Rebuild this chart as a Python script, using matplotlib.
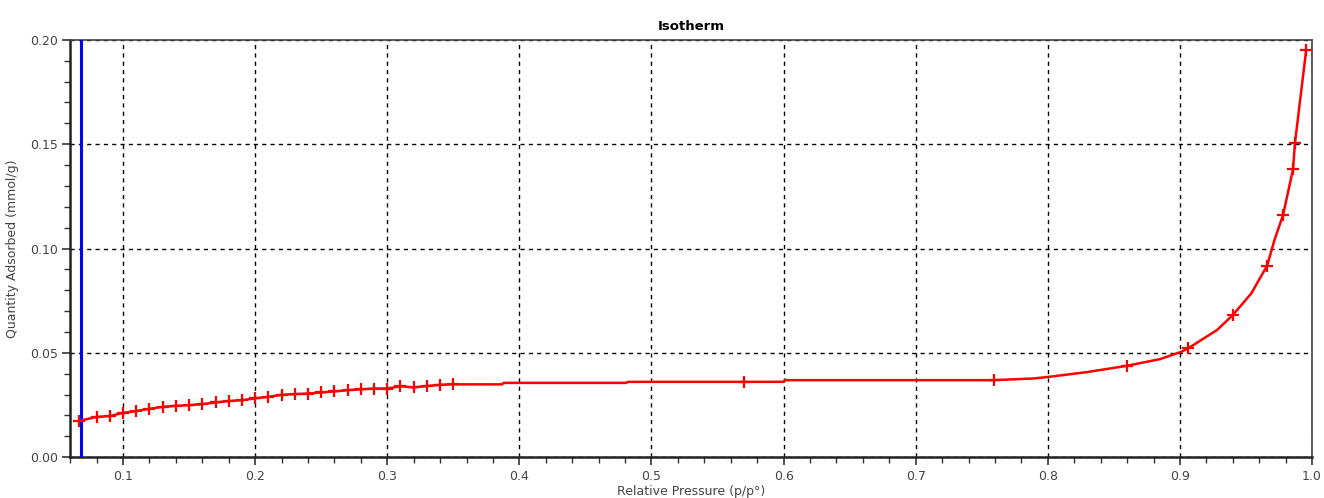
import matplotlib.pyplot as plt
from matplotlib.ticker import MultipleLocator

# measured points (p/p0, mmol/g)
pressure = [0.067, 0.080, 0.090, 0.100, 0.110, 0.120, 0.130, 0.140, 0.150, 0.160,
            0.170, 0.180, 0.190, 0.200, 0.210, 0.220, 0.230, 0.240, 0.250, 0.260,
            0.270, 0.280, 0.290, 0.300, 0.310, 0.320, 0.330, 0.340, 0.350,
            0.570, 0.759, 0.860, 0.906, 0.940, 0.966, 0.978, 0.9856, 0.987, 0.9955]
quantity = [0.0174, 0.0193, 0.0197, 0.0212, 0.0221, 0.0232, 0.0241, 0.0246, 0.0249, 0.0254,
            0.0262, 0.0269, 0.0273, 0.0282, 0.0289, 0.0299, 0.0302, 0.0305, 0.0310, 0.0315,
            0.0321, 0.0325, 0.0329, 0.0329, 0.0340, 0.0334, 0.0341, 0.0347, 0.0349,
            0.0361, 0.0369, 0.0438, 0.0521, 0.0681, 0.0918, 0.1160, 0.1380, 0.1504, 0.1949]

# drawn curve (includes the extra vertices between points)
curve_x = [0.067, 0.080, 0.090, 0.100, 0.110, 0.120, 0.130, 0.140, 0.150, 0.160,
           0.170, 0.180, 0.190, 0.200, 0.210, 0.220, 0.230, 0.240, 0.250, 0.260,
           0.270, 0.280, 0.290, 0.300, 0.310, 0.320, 0.330, 0.340, 0.350,
           0.387, 0.388, 0.481, 0.482, 0.570, 0.600, 0.601, 0.759, 0.789, 0.801,
           0.830, 0.860, 0.885, 0.901, 0.906, 0.928, 0.940, 0.954, 0.966, 0.9715,
           0.978, 0.9856, 0.987, 0.9955]
curve_y = [0.0174, 0.0193, 0.0197, 0.0212, 0.0221, 0.0232, 0.0241, 0.0246, 0.0249, 0.0254,
           0.0262, 0.0269, 0.0273, 0.0282, 0.0289, 0.0299, 0.0302, 0.0305, 0.0310, 0.0315,
           0.0321, 0.0325, 0.0329, 0.0329, 0.0340, 0.0334, 0.0341, 0.0347, 0.0349,
           0.0349, 0.0356, 0.0356, 0.0361, 0.0361, 0.0361, 0.0369, 0.0369, 0.0377, 0.0385,
           0.0408, 0.0438, 0.0470, 0.0505, 0.0521, 0.0609, 0.0681, 0.0785, 0.0918, 0.1040,
           0.1160, 0.1380, 0.1504, 0.1949]

marker_line = 0.068

fig = plt.figure(figsize=(13.24, 4.98), dpi=100)
ax = fig.add_axes([0.053, 0.082, 0.938, 0.838])

ax.axvline(marker_line, color="#0000ff", linewidth=2.2, zorder=3)
ax.plot(curve_x, curve_y, color="#ff0000", linewidth=1.8, zorder=4)
ax.plot(pressure, quantity, linestyle="none", marker="+", markersize=8,
        markeredgewidth=1.6, color="#ff0000", zorder=5)

ax.set_xlim(0.06, 1.0)
ax.set_ylim(0.0, 0.20)
ax.xaxis.set_major_locator(MultipleLocator(0.1))
ax.xaxis.set_minor_locator(MultipleLocator(0.02))
ax.yaxis.set_major_locator(MultipleLocator(0.05))
ax.yaxis.set_minor_locator(MultipleLocator(0.01))
ax.set_xticks([0.1, 0.2, 0.3, 0.4, 0.5, 0.6, 0.7, 0.8, 0.9, 1.0])
ax.set_xticklabels(["0.1", "0.2", "0.3", "0.4", "0.5", "0.6", "0.7", "0.8", "0.9", "1.0"])
ax.set_yticks([0.0, 0.05, 0.10, 0.15, 0.20])
ax.set_yticklabels(["0.00", "0.05", "0.10", "0.15", "0.20"])

ax.grid(True, which="major", color="black", linestyle=(0, (3, 3)), linewidth=1.0)
ax.tick_params(which="major", length=6, width=1.2, color="#333333",
               labelsize=9, labelcolor="#444444", pad=3)
ax.tick_params(which="minor", length=4, width=1.0, color="#333333")
for side in ["left", "bottom"]:
    ax.spines[side].set_linewidth(1.8)
    ax.spines[side].set_color("#222222")
for side in ["top", "right"]:
    ax.spines[side].set_linewidth(1.2)
    ax.spines[side].set_color("#444444")

ax.set_title("Isotherm", fontsize=9.5, fontweight="bold", pad=7)
ax.set_xlabel("Relative Pressure (p/p°)", fontsize=9, color="#444444", labelpad=2)
ax.set_ylabel("Quantity Adsorbed (mmol/g)", fontsize=9, color="#444444", labelpad=8)

fig.savefig("out.png", dpi=100)
